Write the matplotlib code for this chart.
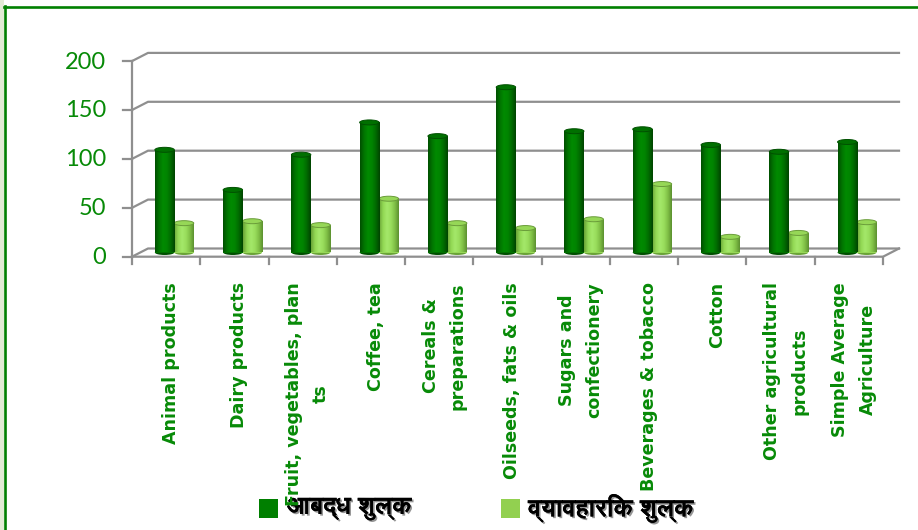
import matplotlib
matplotlib.use('Agg')
import matplotlib.pyplot as plt
import matplotlib.patheffects as pe
import numpy as np
from matplotlib import font_manager
from matplotlib.ft2font import FT2Font
from matplotlib.patches import Ellipse, Rectangle
from matplotlib.lines import Line2D
from matplotlib.transforms import IdentityTransform
from matplotlib.colors import LinearSegmentedColormap

# ---------------- data ----------------
categories = ["Animal products", "Dairy products", "Fruit, vegetables, plan\nts",
              "Coffee, tea", "Cereals &\npreparations", "Oilseeds, fats & oils",
              "Sugars and\nconfectionery", "Beverages & tobacco", "Cotton",
              "Other agricultural\nproducts", "Simple Average\nAgriculture"]
bound = [105, 64, 100, 133, 119, 169, 124, 126, 110, 103, 113]
applied = [30, 32, 28, 55, 30, 25, 34, 70, 16, 20, 31]
yticks = [0, 50, 100, 150, 200]
legend_labels = ["आबद्ध शुल्क", "व्यावहारिक शुल्क"]

# ---------------- fonts ----------------
def find_font_with(ch, prefer_bold=True):
    cp = ord(ch)
    found = []
    for f in font_manager.fontManager.ttflist:
        try:
            if cp in FT2Font(f.fname).get_charmap():
                found.append(f)
        except Exception:
            pass
    if not found:
        return None, 'normal'
    if prefer_bold:
        for f in found:
            if f.weight in ('bold', 700) or (isinstance(f.weight, int) and f.weight >= 600):
                return f.name, 'bold'
    return found[0].name, 'normal'

deva, deva_w = find_font_with('आ')
legend_family = ([deva] if deva else []) + ['DejaVu Sans']

W, H = 918, 530
fig = plt.figure(figsize=(W / 100, H / 100), dpi=100)
fig.patch.set_facecolor('white')

def fx(px):
    return px / W

def fy(py):
    return 1 - py / H

# data x 0..11 <-> px 140..891 ; y 0..200 <-> px 252.5..56.9 (from top)
ax = fig.add_axes([fx(140), fy(252.5), (891 - 140) / W, 195.6 / H])
ax.set_xlim(0, 11)
ax.set_ylim(0, 200)
ax.axis('off')
ax.set_zorder(10)

ID = IdentityTransform()

def P(x, v, dx=0.0, dy=0.0):
    px, py = ax.transData.transform((x, v))
    return px + dx, py + dy

FRONT = (-8.0, -4.2)
BACK = (8.0, 4.0)
grid_c = '#8f8f8f'
green_txt = '#078a07'
n = len(categories)

# back wall gridlines + side wall diagonals
for v in yticks:
    a = P(0, v, *FRONT)
    b = P(0, v, *BACK)
    c = P(n, v, *BACK)
    ax.add_line(Line2D([a[0], b[0], c[0]], [a[1], b[1], c[1]], transform=ID,
                       color=grid_c, lw=1.6, clip_on=False, zorder=1))

# front vertical axis
a = P(0, 0, *FRONT)
b = P(0, yticks[-1], *FRONT)
ax.add_line(Line2D([a[0], b[0]], [a[1], b[1]], transform=ID, color=grid_c,
                   lw=1.6, clip_on=False, zorder=6))
for v in yticks:
    p = P(0, v, *FRONT)
    ax.add_line(Line2D([p[0] - 9.5, p[0]], [p[1], p[1]], transform=ID,
                       color=grid_c, lw=1.6, clip_on=False, zorder=6))
    ax.text(p[0] - 26, p[1] - 1, str(v), transform=ID, ha='right', va='center',
            fontsize=17, family='Lato', color=green_txt, clip_on=False)

# floor front edge and right diagonal
a = P(0, 0, *FRONT)
b = P(n, 0, *FRONT)
c = P(n, 0, *BACK)
ax.add_line(Line2D([a[0], b[0], c[0]], [a[1], b[1], c[1]], transform=ID,
                   color=grid_c, lw=1.6, clip_on=False, zorder=6))
for i in range(n + 1):
    p = P(i, 0, *FRONT)
    ax.add_line(Line2D([p[0], p[0]], [p[1], p[1] - 7], transform=ID,
                       color=grid_c, lw=1.6, clip_on=False, zorder=6))

# ---------------- bars ----------------
x = np.arange(n)
bw = 0.285
dark_cm = LinearSegmentedColormap.from_list(
    'd', ['#004f00', '#007500', '#008a00', '#008400', '#006a00', '#004400'])
light_cm = LinearSegmentedColormap.from_list(
    'l', ['#6aa337', '#92d854', '#a4e86a', '#9ade5d', '#80c046', '#5c9130'])
grad = np.linspace(0, 1, 64).reshape(1, -1)
eh = 5.1  # ellipse height in data units

def cylinders(xc, vals, cmap, top_c, bot_c, edge_c, z):
    bars = ax.bar(xc, vals, width=bw, bottom=0, color=top_c, zorder=z,
                  linewidth=0)
    for rect, v in zip(bars, vals):
        x0 = rect.get_x()
        ax.add_patch(Ellipse((x0 + bw / 2, 0), bw, eh, facecolor=bot_c,
                             edgecolor='none', zorder=z - 0.1, clip_on=False))
        im = ax.imshow(grad, extent=[x0, x0 + bw, 0, v], aspect='auto',
                       cmap=cmap, zorder=z + 0.1, interpolation='bilinear')
        im.set_clip_path(rect)
        ax.add_patch(Ellipse((x0 + bw / 2, v), bw, eh, facecolor=top_c,
                             edgecolor=edge_c, lw=0.7, zorder=z + 0.2,
                             clip_on=False))

cylinders(x + 0.645, applied, light_cm, '#96d757', '#6aa337', '#6a9c3a', 3)
cylinders(x + 0.36, bound, dark_cm, '#007000', '#004f00', '#005000', 4)
ax.set_xlim(0, 11)
ax.set_ylim(0, 200)

# category labels
for i, lab in enumerate(categories):
    px, _ = P(i + 0.5, 0, -3, 0)
    ax.text(px, H - 282, lab, transform=ID, rotation=90, ha='center', va='top',
            multialignment='center', fontsize=12.6, fontweight='bold',
            family='DejaVu Sans', color='#078a07', linespacing=1.65,
            clip_on=False, zorder=7)

# ---------------- legend ----------------
leg_cols = ['#007f00', '#92d050']
sq_x = [259, 501]
tx_x = [287, 528]
shadow = [pe.withSimplePatchShadow(offset=(1.2, -1.2), shadow_rgbFace='#8a8a8a',
                                   alpha=0.9), pe.Normal()]
for sx, tx, col, lab in zip(sq_x, tx_x, leg_cols, legend_labels):
    fig.add_artist(Rectangle((fx(sx), fy(518)), 19 / W, 19 / H,
                             transform=fig.transFigure, facecolor=col,
                             edgecolor='none', zorder=8))
    fig.text(fx(tx), fy(508), lab, ha='left', va='center', fontsize=17.8,
             family=legend_family, fontweight=deva_w, color='black', zorder=9,
             path_effects=shadow)

# ---------------- frame ----------------
fig.add_artist(Rectangle((0, 0), 3.5 / W, 1, transform=fig.transFigure,
                         facecolor='#e2ebd5', edgecolor='none', zorder=0))
fig.add_artist(Line2D([fx(4), fx(918)], [fy(6.5), fy(6.5)],
                      transform=fig.transFigure, color='#008000', lw=1.9))
fig.add_artist(Line2D([fx(5.2), fx(5.2)], [fy(5.5), fy(530)],
                      transform=fig.transFigure, color='#008000', lw=1.9))

fig.savefig('out.png', dpi=100, facecolor='white')
